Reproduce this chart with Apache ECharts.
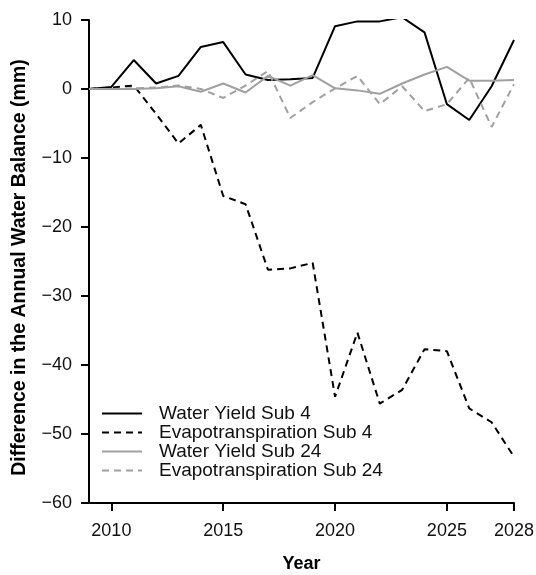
<!DOCTYPE html>
<html>
<head>
<meta charset="utf-8">
<script src="https://cdn.jsdelivr.net/npm/echarts@6/dist/echarts.min.js"></script>
<style>
html,body{margin:0;padding:0;background:#fff;}
#chart{width:536px;height:575px;}
</style>
</head>
<body>
<div id="chart"></div>
<script>
var years = [2009,2010,2011,2012,2013,2014,2015,2016,2017,2018,2019,2020,2021,2022,2023,2024,2025,2026,2027,2028];
var waterYieldSub4 = [0, 0.3, 4.2, 0.8, 1.9, 6.1, 6.8, 2.1, 1.3, 1.4, 1.6, 9.1, 9.8, 9.8, 10.4, 8.2, -2.2, -4.5, 0.4, 7.1];
var evapoSub4 = [0, 0.2, 0.5, -3.6, -7.9, -5.2, -15.5, -16.7, -26.2, -26.0, -25.2, -44.6, -35.3, -45.6, -43.6, -37.7, -38.0, -46.3, -48.3, -53.3];
var waterYieldSub24 = [0, 0, 0, 0.1, 0.4, -0.4, 0.8, -0.5, 1.9, 0.5, 2.0, 0.1, -0.2, -0.7, 0.8, 2.1, 3.2, 1.2, 1.2, 1.3];
var evapoSub24 = [0, 0, 0.1, 0.2, 0.5, 0, -1.3, 0.5, 2.6, -4.2, -1.9, 0.1, 1.9, -2.2, 0.4, -3.2, -2.2, 1.6, -5.5, 0.7];
var seriesNames = ['Water Yield Sub 4', 'Evapotranspiration Sub 4', 'Water Yield Sub 24', 'Evapotranspiration Sub 24'];
var xTicks = [2010, 2015, 2020, 2025, 2028];

function pairs(vals){ return years.map(function(y,i){ return [y, vals[i]]; }); }
var FONT = '"Liberation Sans", Arial, Helvetica, sans-serif';
var chart = echarts.init(document.getElementById('chart'));
function mkSeries(name, vals, color, dashed){
  return {
    name: name, type: 'line', data: pairs(vals), symbol: 'none', smooth: false,
    lineStyle: {color: color, width: 2, type: dashed ? [7,5] : 'solid'},
    itemStyle: {color: color},
    emphasis: {disabled: true}, animation: false
  };
}
chart.setOption({
  animation: false,
  grid: {left: 89, right: 22, top: 20, bottom: 72, containLabel: false, outerBoundsMode: 'none'},
  legend: {
    orient: 'vertical', left: 96, top: 399, itemWidth: 40, itemHeight: 18, itemGap: 0,
    data: seriesNames,
    itemStyle: {opacity: 0},
    textStyle: {fontFamily: FONT, fontSize: 19, lineHeight: 18, color: '#111', padding: [0,0,0,12]}
  },
  xAxis: {
    type: 'value', min: 2009, max: 2028,
    name: 'Year', nameLocation: 'middle', nameGap: 52,
    nameTextStyle: {fontFamily: FONT, fontSize: 18, fontWeight: 'bold', color: '#000'},
    axisLine: {onZero: false, lineStyle: {color: '#000', width: 2}},
    axisTick: {show: true, length: 8, lineStyle: {color: '#000', width: 2}, customValues: xTicks},
    axisLabel: {fontFamily: FONT, fontSize: 18, color: '#111', margin: 19, customValues: xTicks,
      formatter: function(v){ return String(v); }},
    splitLine: {show: false}
  },
  yAxis: {
    type: 'value', min: -60, max: 10, interval: 10,
    name: 'Difference in the Annual Water Balance (mm)', nameLocation: 'middle', nameGap: 59,
    nameTextStyle: {fontFamily: FONT, fontSize: 19.5, fontWeight: 'bold', color: '#000', padding: [0,12,0,0]},
    axisLine: {show: true, lineStyle: {color: '#000', width: 2}},
    axisTick: {show: true, length: 8, lineStyle: {color: '#000', width: 2}},
    axisLabel: {fontFamily: FONT, fontSize: 18, color: '#111', margin: 17,
      formatter: function(v){ return v < 0 ? '\u2212' + Math.abs(v) : String(v); }},
    splitLine: {show: false}
  },
  series: [
    mkSeries(seriesNames[0], waterYieldSub4, '#000', false),
    mkSeries(seriesNames[1], evapoSub4, '#000', true),
    mkSeries(seriesNames[2], waterYieldSub24, '#a0a0a0', false),
    mkSeries(seriesNames[3], evapoSub24, '#a0a0a0', true)
  ]
});
</script>
</body>
</html>
